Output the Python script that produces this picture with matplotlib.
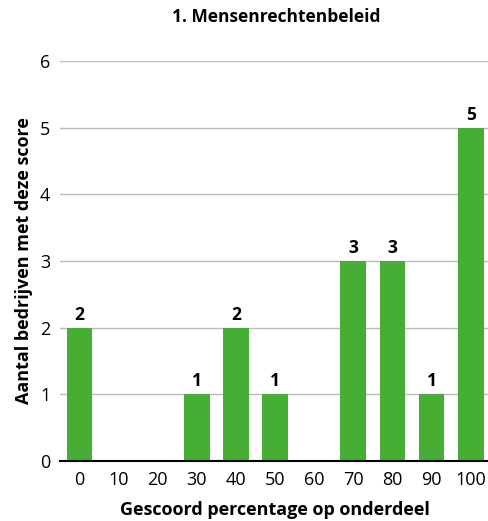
import numpy as np
import matplotlib.pyplot as plt

plt.rcParams['font.family'] = ['Open Sans', 'DejaVu Sans']

categories = ['0', '10', '20', '30', '40', '50', '60', '70', '80', '90', '100']
counts = [2, 0, 0, 1, 2, 1, 0, 3, 3, 1, 5]

fig = plt.figure(figsize=(4.89, 5.21), dpi=100)
ax = fig.add_axes([0.1227, 0.1152, 0.8773, 0.768])

x = np.arange(len(categories))
ax.bar(x, counts, width=0.66, color='#46ad35', zorder=3)

for xi, c in zip(x, counts):
    if c > 0:
        ax.text(xi, c + 0.06, str(c), ha='center', va='bottom',
                fontsize=12.5, fontweight='bold')

ax.set_xlim(-0.5, 10.47)
ax.set_ylim(0, 6)
ax.set_yticks(range(7))
ax.set_xticks(x)
ax.set_xticklabels(categories)
ax.tick_params(axis='both', length=0, labelsize=13, pad=7)
ax.grid(axis='y', color='#bbbbbb', linewidth=1, zorder=0)
for s in ['top', 'right', 'left']:
    ax.spines[s].set_visible(False)
ax.spines['bottom'].set_linewidth(1.5)
ax.spines['bottom'].set_zorder(4)

ax.set_xlabel('Gescoord percentage op onderdeel', fontsize=13, fontweight='bold', labelpad=9)
ax.set_ylabel('Aantal bedrijven met deze score', fontsize=13, fontweight='bold', labelpad=5)
fig.text(0.565, 0.967, '1. Mensenrechtenbeleid', ha='center', va='center',
         fontsize=12.5, fontweight='bold')

fig.savefig('out.png', dpi=100)
